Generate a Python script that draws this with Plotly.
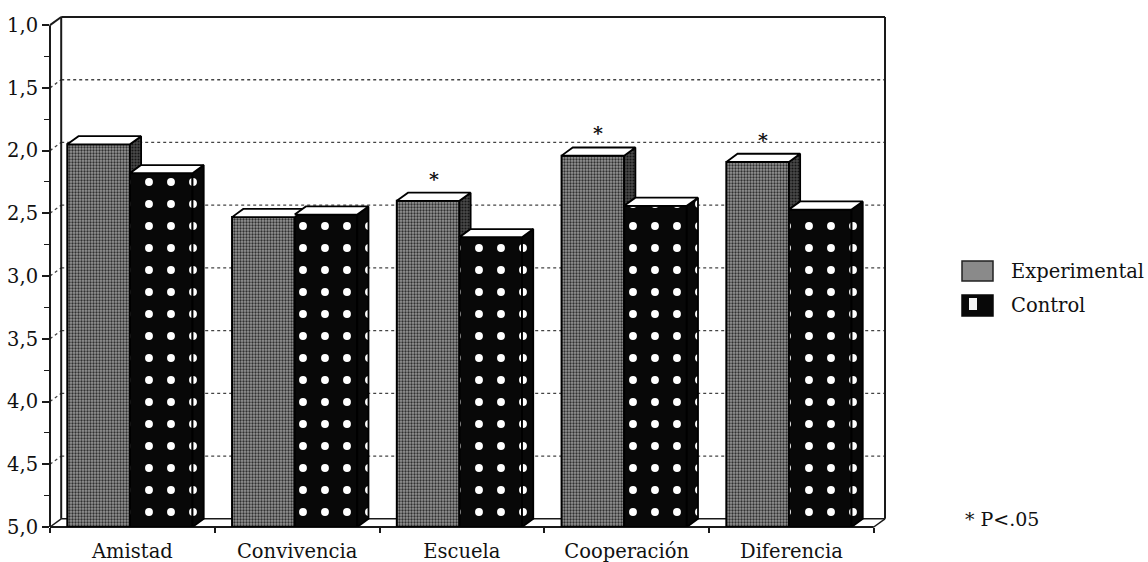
import plotly.graph_objects as go

# ---- data -------------------------------------------------------------
categories = ["Amistad", "Convivencia", "Escuela", "Cooperación", "Diferencia"]
experimental = [1.95, 2.53, 2.40, 2.04, 2.09]
control = [2.18, 2.51, 2.69, 2.44, 2.47]
significant = [False, False, True, True, True]
y_tick_values = [1.0, 1.5, 2.0, 2.5, 3.0, 3.5, 4.0, 4.5, 5.0]
y_tick_text = ["1,0", "1,5", "2,0", "2,5", "3,0", "3,5", "4,0", "4,5", "5,0"]
series_names = ["Experimental", "Control"]
footnote = "* P<.05"

# ---- geometry of the pseudo-3D box ------------------------------------
FLOOR = 5.0          # scale is inverted: bars rise from 5 towards 1
TOP = 1.0
DX = 0.068           # depth shift, category units
DY = 0.065           # depth shift, value units
BAR_W = 0.38
OFF_EXP = -0.395
OFF_CTL = -0.015
X_MIN, X_MAX = -0.5, len(categories) - 0.5 + DX
Y_LO, Y_HI = FLOOR, TOP - DY

W, H = 1148, 562
M_L, M_R, M_T, M_B = 50, 263, 17, 35
FONT = "DejaVu Serif"
INK = "#111111"


def fx(x):
    return (x - X_MIN) / (X_MAX - X_MIN)


def fy(v):
    return (Y_LO - v) / (Y_LO - Y_HI)


def px_x(p):
    return (p - M_L) / (W - M_L - M_R)


def px_y(p):
    return (H - M_B - p) / (H - M_T - M_B)


x_pos = list(range(len(categories)))

exp_pattern = dict(shape=".", fgcolor="#303030", bgcolor="#969696", size=3, solidity=0.45,
                   fgopacity=1)
ctl_pattern = dict(shape=".", fgcolor="#ffffff", bgcolor="#080808", size=22, solidity=0.1,
                   fgopacity=1)
side_pattern = dict(shape=".", fgcolor="#151515", bgcolor="#4a4a4a", size=3, solidity=0.4,
                    fgopacity=1)

fig = go.Figure()

# front faces of the bars
fig.add_trace(go.Bar(
    x=x_pos, y=[v - FLOOR for v in experimental], base=FLOOR,
    width=BAR_W, offset=OFF_EXP, name=series_names[0],
    marker=dict(color="#8a8a8a", pattern=exp_pattern, line=dict(color="black", width=2)),
    showlegend=False,
))
fig.add_trace(go.Bar(
    x=x_pos, y=[v - FLOOR for v in control], base=FLOOR,
    width=BAR_W, offset=OFF_CTL, name=series_names[1],
    marker=dict(color="#080808", pattern=ctl_pattern, line=dict(color="black", width=2)),
    showlegend=False,
))


def polys_to_xy(polys):
    xs, ys = [], []
    for poly in polys:
        for (a, b) in poly + [poly[0]]:
            xs.append(a)
            ys.append(b)
        xs.append(None)
        ys.append(None)
    return xs, ys


def top_face(xl, xr, v):
    return [(xl, v), (xr, v), (xr + DX, v - DY), (xl + DX, v - DY)]


exp_sides, exp_tops, ctl_sides, ctl_tops = [], [], [], []
for i, (ve, vc) in enumerate(zip(experimental, control)):
    exl, exr = i + OFF_EXP, i + OFF_EXP + BAR_W
    cxl, cxr = i + OFF_CTL, i + OFF_CTL + BAR_W
    exp_tops.append(top_face(exl, exr, ve))
    # the part of the experimental side face not hidden by the control bar
    if ve < vc:
        exp_sides.append([(exr, ve), (exr + DX, ve - DY), (exr + DX, vc - DY), (exr, vc)])
    ctl_tops.append(top_face(cxl, cxr, vc))
    ctl_sides.append([(cxr, vc), (cxr + DX, vc - DY), (cxr + DX, FLOOR - DY), (cxr, FLOOR)])

for polys, fill, pat in [
    (exp_sides, "#3a3a3a", side_pattern),
    (exp_tops, "white", None),
    (ctl_sides, "#080808", ctl_pattern),
    (ctl_tops, "white", None),
]:
    xs, ys = polys_to_xy(polys)
    kw = dict(fillpattern=pat) if pat else {}
    fig.add_trace(go.Scatter(
        x=xs, y=ys, mode="lines", fill="toself", fillcolor=fill,
        line=dict(color="black", width=1.8), hoverinfo="skip", showlegend=False, **kw,
    ))

# ---- walls, floor and gridlines ---------------------------------------
shapes = []


def seg(x0, v0, x1, v1, width=2, color="#1a1a1a", dash="solid"):
    shapes.append(dict(
        type="line", xref="x domain", yref="y domain", layer="below",
        x0=fx(x0), y0=fy(v0), x1=fx(x1), y1=fy(v1),
        line=dict(color=color, width=width, dash=dash),
    ))


x_front_l, x_front_r = -0.5, len(categories) - 0.5
for v in y_tick_values[1:-1]:
    seg(x_front_l + DX, v - DY, x_front_r + DX, v - DY, width=1.3, color="#444444", dash="dot")
    seg(x_front_l, v, x_front_l + DX, v - DY, width=1.3, color="#444444", dash="dot")

# back wall
seg(x_front_l + DX, TOP - DY, x_front_r + DX, TOP - DY)
seg(x_front_r + DX, TOP - DY, x_front_r + DX, FLOOR - DY)
seg(x_front_l + DX, TOP - DY, x_front_l + DX, FLOOR - DY)
# left wall
seg(x_front_l, TOP, x_front_l + DX, TOP - DY)
seg(x_front_l, TOP, x_front_l, FLOOR)
# floor
seg(x_front_l + DX, FLOOR - DY, x_front_r + DX, FLOOR - DY, width=1.5)
seg(x_front_l, FLOOR, x_front_l + DX, FLOOR - DY, width=1.5)
seg(x_front_r, FLOOR, x_front_r + DX, FLOOR - DY, width=1.5)
seg(x_front_l, FLOOR, x_front_r, FLOOR)

# ---- legend keys --------------------------------------------------------
shapes.append(dict(type="rect", xref="paper", yref="paper",
                   x0=px_x(962), x1=px_x(993), y0=px_y(281), y1=px_y(261),
                   fillcolor="#8a8a8a", line=dict(color="#222222", width=1.5)))
shapes.append(dict(type="rect", xref="paper", yref="paper",
                   x0=px_x(962), x1=px_x(993), y0=px_y(316), y1=px_y(295),
                   fillcolor="#080808", line=dict(color="#080808", width=1.5)))
shapes.append(dict(type="rect", xref="paper", yref="paper",
                   x0=px_x(969), x1=px_x(977), y0=px_y(310), y1=px_y(298),
                   fillcolor="#f4f4f4", line=dict(width=0)))

annotations = [
    dict(xref="paper", yref="paper", x=px_x(1009), y=px_y(271), text=series_names[0],
         showarrow=False, xanchor="left", yanchor="middle", font=dict(family=FONT, size=19.5, color=INK)),
    dict(xref="paper", yref="paper", x=px_x(1009), y=px_y(305), text=series_names[1],
         showarrow=False, xanchor="left", yanchor="middle", font=dict(family=FONT, size=19.5, color=INK)),
    dict(xref="paper", yref="paper", x=px_x(963), y=px_y(519), text=footnote,
         showarrow=False, xanchor="left", yanchor="middle", font=dict(family=FONT, size=19, color=INK)),
]

# significance marks above the experimental bars
for i, (ve, sig) in enumerate(zip(experimental, significant)):
    if sig:
        annotations.append(dict(
            x=i + OFF_EXP + BAR_W / 2 + DX / 2, y=ve - DY, xref="x", yref="y",
            text="<b>*</b>", showarrow=False, yanchor="bottom", yshift=1,
            font=dict(family=FONT, size=19, color=INK),
        ))

fig.update_layout(
    width=W, height=H,
    margin=dict(l=M_L, r=M_R, t=M_T, b=M_B),
    paper_bgcolor="white", plot_bgcolor="white",
    barmode="overlay", showlegend=False,
    shapes=shapes, annotations=annotations,
    font=dict(family=FONT, size=19.5, color=INK),
    xaxis=dict(
        range=[X_MIN, X_MAX], showgrid=False, zeroline=False, showline=False,
        tickmode="array", tickvals=x_pos, ticktext=categories,
        ticks="outside", ticklen=7, tickcolor="rgba(0,0,0,0)",
        minor=dict(tickmode="linear", tick0=-0.5, dtick=1, ticks="outside",
                   ticklen=5, tickcolor="#1a1a1a", tickwidth=1.5, showgrid=False),
        tickfont=dict(family=FONT, size=19.5, color=INK), automargin=False,
    ),
    yaxis=dict(
        range=[Y_LO, Y_HI], showgrid=False, zeroline=False, showline=False,
        tickmode="array", tickvals=y_tick_values, ticktext=y_tick_text,
        ticks="outside", ticklen=7, tickwidth=1.5, tickcolor="#1a1a1a",
        minor=dict(tickmode="linear", tick0=1.25, dtick=0.5, ticks="outside",
                   ticklen=5, tickcolor="#1a1a1a", tickwidth=1.2, showgrid=False),
        tickfont=dict(family=FONT, size=19.5, color=INK), automargin=False,
    ),
)

fig.write_html("out.html")
